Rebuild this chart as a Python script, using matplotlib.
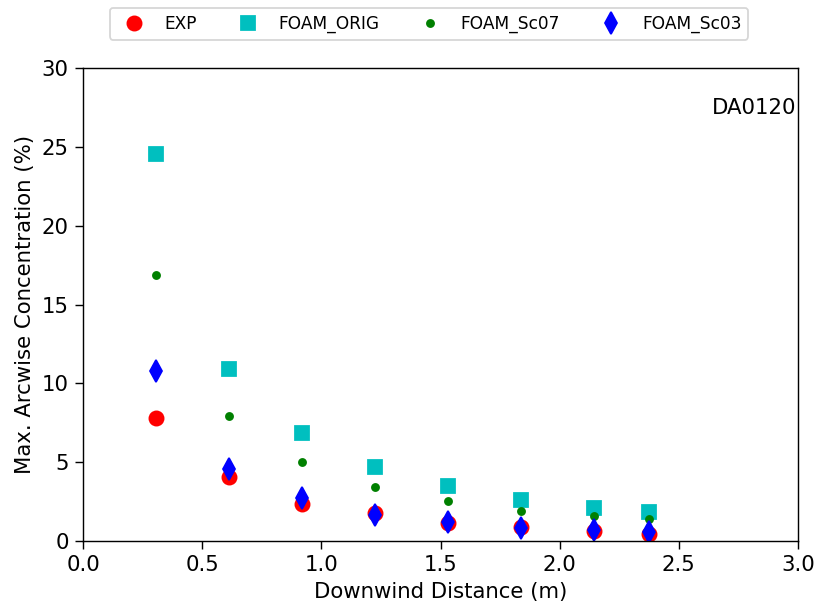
import matplotlib
matplotlib.use("Agg")
import matplotlib.pyplot as plt

# ----- data -----
distance = [0.306, 0.613, 0.919, 1.225, 1.532, 1.838, 2.144, 2.375]
exp_conc = [7.8, 4.06, 2.35, 1.78, 1.14, 0.89, 0.63, 0.44]
foam_orig = [24.54, 10.9, 6.85, 4.69, 3.49, 2.6, 2.09, 1.84]
foam_sc07 = [16.87, 7.93, 5.0, 3.42, 2.54, 1.9, 1.58, 1.39]
foam_sc03 = [10.78, 4.57, 2.73, 1.65, 1.2, 0.82, 0.7, 0.57]
case_name = "DA0120"
# -----------------------------------------

W, H = 816, 614
fig = plt.figure(figsize=(6.4, 6.4 * H / W), dpi=127.5)
ax = fig.add_axes([83 / W, 1 - 541 / H, 715 / W, 473 / H])

ax.plot(distance, exp_conc, "o", color="r", ms=8, ls="none", label="EXP")
ax.plot(distance, foam_orig, "s", color="c", ms=8, ls="none", label="FOAM_ORIG")
ax.plot(distance, foam_sc07, "o", color="g", ms=4, ls="none", label="FOAM_Sc07")
ax.plot(distance, foam_sc03, "d", color="b", ms=8.5, ls="none", label="FOAM_Sc03")

ax.set_xlim(0, 3)
ax.set_ylim(0, 30)
ax.set_xticks([0.0, 0.5, 1.0, 1.5, 2.0, 2.5, 3.0])
ax.set_yticks([0, 5, 10, 15, 20, 25, 30])
ax.tick_params(direction="out", length=4.5, labelsize=12)
ax.set_xlabel("Downwind Distance (m)", fontsize=12)
ax.set_ylabel("Max. Arcwise Concentration (%)", fontsize=12)

ax.text(0.998, 0.915, case_name, transform=ax.transAxes, ha="right", va="center", fontsize=12)

fig.legend(loc="upper center", bbox_to_anchor=(429 / W, 1 - 8 / H), ncol=4,
           fontsize=9.6, borderaxespad=0, numpoints=1)

fig.savefig("out.png", dpi=127.5)
